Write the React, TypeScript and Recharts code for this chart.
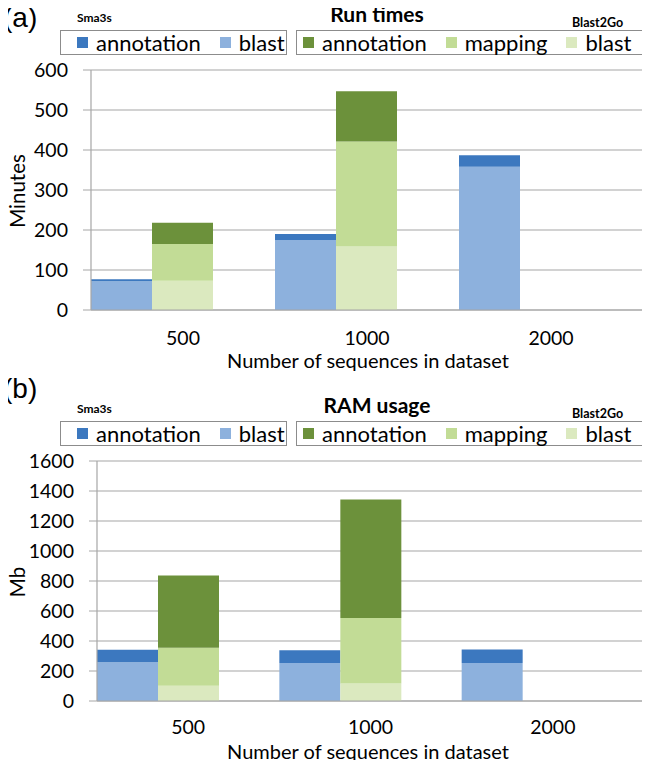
import React from 'react'
import { BarChart, Bar, XAxis, YAxis, CartesianGrid } from 'recharts'

const categories = ['500', '1000', '2000']

// Run times (minutes)
const sma3sBlastMin = [72, 175, 358]
const sma3sAnnotMin = [5, 15, 29]
const b2gBlastMin = [73, 159, null]
const b2gMappingMin = [92, 262, null]
const b2gAnnotMin = [53, 126, null]

// RAM usage (Mb)
const sma3sBlastMb = [258, 254, 254]
const sma3sAnnotMb = [84, 84, 90]
const b2gBlastMb = [101, 117, null]
const b2gMappingMb = [254, 437, null]
const b2gAnnotMb = [482, 790, null]

const minuteTicks = [0, 100, 200, 300, 400, 500, 600]
const mbTicks = [0, 200, 400, 600, 800, 1000, 1200, 1400, 1600]

const COLORS = {
  sAnnot: '#3c78bf',
  sBlast: '#8db1dd',
  bAnnot: '#6c913b',
  bMapping: '#c2dc96',
  bBlast: '#dbe9bf',
}
const GRID = '#a6a6a6'
const FONT = 'Lato, "Open Sans", sans-serif'

function buildRows(sb: number[], sa: number[], bb: (number | null)[], bm: (number | null)[], ba: (number | null)[]) {
  return categories.map((cat, i) => ({
    cat,
    sBlast: sb[i],
    sAnnot: sa[i],
    bBlast: bb[i],
    bMapping: bm[i],
    bAnnot: ba[i],
    pad: 0,
  }))
}

const runRows = buildRows(sma3sBlastMin, sma3sAnnotMin, b2gBlastMin, b2gMappingMin, b2gAnnotMin)
const ramRows = buildRows(sma3sBlastMb, sma3sAnnotMb, b2gBlastMb, b2gMappingMb, b2gAnnotMb)

function Swatch({ color, label, last }: { color: string; label: string; last?: boolean }) {
  return (
    <span style={{ display: 'inline-flex', alignItems: 'center', marginRight: last ? 0 : 19 }}>
      <span style={{ width: 11, height: 11, background: color, marginRight: 8, display: 'inline-block' }} />
      {label}
    </span>
  )
}

interface PanelProps {
  top: number
  letter: string
  letterTop: number
  title: string
  yLabel: string
  rows: ReturnType<typeof buildRows>
  domain: [number, number]
  ticks: number[]
  yWidth: number
  rightWidth: number
  xTickMargin: number
  xTitleTop: number
}

function Panel(p: PanelProps) {
  const boxStyle: React.CSSProperties = {
    position: 'absolute',
    top: 29,
    height: 25,
    border: '1px solid #8c8c8c',
    display: 'flex',
    alignItems: 'center',
    fontSize: 22,
    lineHeight: 1,
    boxSizing: 'border-box',
    whiteSpace: 'nowrap',
    background: '#fff',
  }
  const abs = (s: React.CSSProperties): React.CSSProperties => ({ position: 'absolute', lineHeight: 1.2, whiteSpace: 'nowrap', zIndex: 2, ...s })
  return (
    <div style={{ position: 'absolute', left: 0, top: p.top, width: 650, height: 376, fontFamily: FONT, color: '#000' }}>
      <div style={{ position: 'absolute', left: 0, top: 0 }}>
        <BarChart
          width={650}
          height={376}
          data={p.rows}
          margin={{ top: 69, right: 0, bottom: 0, left: 0 }}
          barCategoryGap={0}
          barGap={0}
        >
          <CartesianGrid vertical={false} stroke={GRID} strokeWidth={1.2} />
          <XAxis
            dataKey="cat"
            height={67}
            tickLine={false}
            tickSize={0}
            tickMargin={p.xTickMargin}
            axisLine={{ stroke: GRID, strokeWidth: 1.2 }}
            tick={{ fill: '#000', fontSize: 19.5, fontFamily: FONT }}
          />
          <YAxis
            domain={p.domain}
            ticks={p.ticks}
            width={p.yWidth}
            tickSize={8}
            tickMargin={15}
            tickLine={{ stroke: GRID }}
            axisLine={{ stroke: GRID, strokeWidth: 1.2 }}
            tick={{ fill: '#000', fontSize: 19.5, fontFamily: FONT }}
            interval={0}
          />
          <YAxis
            yAxisId="r"
            orientation="right"
            domain={p.domain}
            width={p.rightWidth}
            tick={false}
            tickLine={false}
            axisLine={{ stroke: GRID, strokeWidth: 1.2 }}
          />
          <Bar dataKey="sBlast" stackId="s" fill={COLORS.sBlast} isAnimationActive={false} />
          <Bar dataKey="sAnnot" stackId="s" fill={COLORS.sAnnot} isAnimationActive={false} />
          <Bar dataKey="bBlast" stackId="b" fill={COLORS.bBlast} isAnimationActive={false} />
          <Bar dataKey="bMapping" stackId="b" fill={COLORS.bMapping} isAnimationActive={false} />
          <Bar dataKey="bAnnot" stackId="b" fill={COLORS.bAnnot} isAnimationActive={false} />
          <Bar dataKey="pad" stackId="p" fill="transparent" isAnimationActive={false} />
        </BarChart>
      </div>
      <div style={abs({ left: 3, top: p.letterTop, fontSize: 28, fontFamily: '"Liberation Sans", Arial, sans-serif' })}>{p.letter}</div>
      <div style={abs({ left: 277, width: 200, textAlign: 'center', top: 0, fontSize: 21, fontWeight: 700 })}>{p.title}</div>
      <div style={abs({ left: 77, top: 10, fontSize: 12, fontWeight: 700 })}>Sma3s</div>
      <div style={abs({ left: 572, top: 14, fontSize: 12.5, fontWeight: 700 })}>Blast2Go</div>
      <div style={{ ...boxStyle, left: 60, width: 227, paddingLeft: 16, zIndex: 2 }}>
        <Swatch color={COLORS.sAnnot} label="annotation" />
        <Swatch color={COLORS.sBlast} label="blast" last />
      </div>
      <div style={{ ...boxStyle, left: 296, width: 347, paddingLeft: 6, zIndex: 2 }}>
        <Swatch color={COLORS.bAnnot} label="annotation" />
        <Swatch color={COLORS.bMapping} label="mapping" />
        <Swatch color={COLORS.bBlast} label="blast" last />
      </div>
      <div
        style={abs({
          left: 17,
          top: 190,
          fontSize: 20.5,
          transform: 'translate(-50%, -50%) rotate(-90deg)',
        })}
      >
        {p.yLabel}
      </div>
      <div style={abs({ left: 168, width: 400, textAlign: 'center', top: p.xTitleTop, fontSize: 20, lineHeight: 1 })}>
        Number of sequences in dataset
      </div>
    </div>
  )
}

export default function App() {
  return (
    <div style={{ position: 'relative', width: 650, height: 768, margin: -8, background: '#fff', overflow: 'hidden' }}>
      <Panel
        top={1}
        letter="(a)"
        letterTop={0}
        title="Run times"
        yLabel="Minutes"
        rows={runRows}
        domain={[0, 600]}
        ticks={minuteTicks}
        yWidth={91}
        rightWidth={7}
        xTickMargin={21}
        xTitleTop={349}
      />
      <Panel
        top={392}
        letter="(b)"
        letterTop={-20}
        title="RAM usage"
        yLabel="Mb"
        rows={ramRows}
        domain={[0, 1600]}
        ticks={mbTicks}
        yWidth={97}
        rightWidth={6}
        xTickMargin={19}
        xTitleTop={349}
      />
    </div>
  )
}
